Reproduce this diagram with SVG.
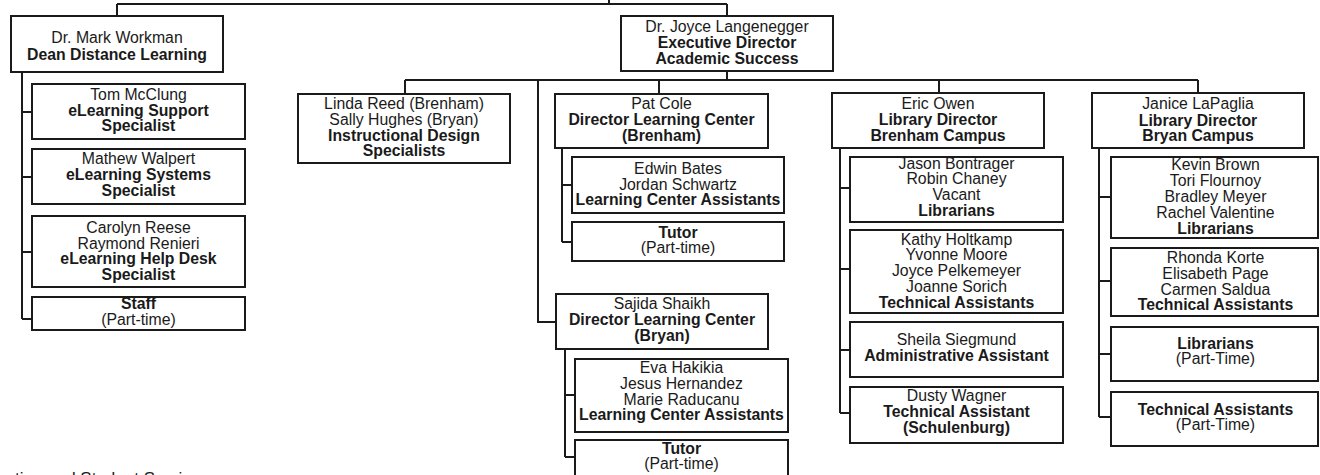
<svg xmlns="http://www.w3.org/2000/svg" width="1320" height="475" viewBox="0 0 1320 475">
<style>
rect.b{fill:#fff;stroke:#1a1a1a;stroke-width:2}
text{font-family:"Liberation Sans",Arial,sans-serif;font-size:15.8px;fill:#1a1a1a;text-anchor:middle}
.t{font-weight:bold}
#connectors path{fill:none;stroke:#1a1a1a;stroke-width:2}
.foot{text-anchor:start;font-size:17px}
</style>
<rect width="1320" height="475" fill="#fff"/>
<g id="connectors">
<path d="M609,0V4M117,4H727M117,4V16M727,4V16"/>
<path d="M22,72V319M22,112H32M22,177H32M22,252H32M22,319H32"/>
<path d="M727,71V80M405,80H1198M405,80V94M659,80V94M939,80V93M1198,80V93M538,80V322H556"/>
<path d="M562,148V242M562,185H572M562,242H572"/>
<path d="M565,349V457M565,395H575M565,457H575"/>
<path d="M840,148V413M840,188H850M840,269H850M840,350H850M840,413H850"/>
<path d="M1099,148V417M1099,197H1111M1099,281H1111M1099,354H1111M1099,417H1111"/>
</g>
<g id="mark"><rect class="b" x="11" y="16" width="212" height="56"/>
<text x="117" y="43">Dr. Mark Workman</text><text class="t" x="117" y="60">Dean Distance Learning</text></g>
<g id="tom"><rect class="b" x="32" y="84" width="213" height="55"/>
<text x="138.5" y="99.5">Tom McClung</text><text class="t" x="138.5" y="115.5">eLearning Support</text><text class="t" x="138.5" y="131">Specialist</text></g>
<g id="mathew"><rect class="b" x="32" y="149" width="213" height="55"/>
<text x="138.5" y="164">Mathew Walpert</text><text class="t" x="138.5" y="180">eLearning Systems</text><text class="t" x="138.5" y="196">Specialist</text></g>
<g id="carolyn"><rect class="b" x="32" y="216" width="213" height="71"/>
<text x="138.5" y="232.5">Carolyn Reese</text><text x="138.5" y="248.5">Raymond Renieri</text><text class="t" x="138.5" y="264">eLearning Help Desk</text><text class="t" x="138.5" y="280">Specialist</text></g>
<g id="staff"><rect class="b" x="32" y="297" width="213" height="33"/>
<text class="t" x="138.5" y="309">Staff</text><text x="138.5" y="325">(Part-time)</text></g>
<g id="joyce"><rect class="b" x="621" y="16" width="212" height="55"/>
<text x="727" y="32">Dr. Joyce Langenegger</text><text class="t" x="727" y="48">Executive Director</text><text class="t" x="727" y="63.5">Academic Success</text></g>
<g id="linda"><rect class="b" x="298" y="94" width="212" height="69"/>
<text x="404" y="109">Linda Reed (Brenham)</text><text x="404" y="125">Sally Hughes (Bryan)</text><text class="t" x="404" y="140.5">Instructional Design</text><text class="t" x="404" y="156">Specialists</text></g>
<g id="pat"><rect class="b" x="555" y="94" width="213" height="54"/>
<text x="661.5" y="109">Pat Cole</text><text class="t" x="661.5" y="125">Director Learning Center</text><text class="t" x="661.5" y="140.5">(Brenham)</text></g>
<g id="edwin"><rect class="b" x="572" y="157" width="212" height="56"/>
<text x="678" y="174">Edwin Bates</text><text x="678" y="189.5">Jordan Schwartz</text><text class="t" x="678" y="205">Learning Center Assistants</text></g>
<g id="tutor1"><rect class="b" x="572" y="222" width="212" height="39"/>
<text class="t" x="678" y="237.5">Tutor</text><text x="678" y="253">(Part-time)</text></g>
<g id="sajida"><rect class="b" x="556" y="294" width="212" height="55"/>
<text x="662" y="308.5">Sajida Shaikh</text><text class="t" x="662" y="325">Director Learning Center</text><text class="t" x="662" y="340.5">(Bryan)</text></g>
<g id="eva"><rect class="b" x="575" y="359" width="213" height="73"/>
<text x="681.5" y="372.5">Eva Hakikia</text><text x="681.5" y="388.5">Jesus Hernandez</text><text x="681.5" y="404.5">Marie Raducanu</text><text class="t" x="681.5" y="420">Learning Center Assistants</text></g>
<g id="tutor2"><rect class="b" x="575" y="440" width="213" height="38"/>
<text class="t" x="681.5" y="453.5">Tutor</text><text x="681.5" y="468.5">(Part-time)</text></g>
<g id="eric"><rect class="b" x="832" y="93" width="212" height="55"/>
<text x="938" y="108.5">Eric Owen</text><text class="t" x="938" y="125">Library Director</text><text class="t" x="938" y="140.5">Brenham Campus</text></g>
<g id="jason"><rect class="b" x="850" y="157" width="213" height="65"/>
<text x="956.5" y="168.5">Jason Bontrager</text><text x="956.5" y="184">Robin Chaney</text><text x="956.5" y="200">Vacant</text><text class="t" x="956.5" y="216">Librarians</text></g>
<g id="kathy"><rect class="b" x="850" y="230" width="213" height="83"/>
<text x="956.5" y="244.5">Kathy Holtkamp</text><text x="956.5" y="260">Yvonne Moore</text><text x="956.5" y="276">Joyce Pelkemeyer</text><text x="956.5" y="292">Joanne Sorich</text><text class="t" x="956.5" y="308">Technical Assistants</text></g>
<g id="sheila"><rect class="b" x="850" y="322" width="213" height="55"/>
<text x="956.5" y="345">Sheila Siegmund</text><text class="t" x="956.5" y="361">Administrative Assistant</text></g>
<g id="dusty"><rect class="b" x="850" y="387" width="213" height="56"/>
<text x="956.5" y="401">Dusty Wagner</text><text class="t" x="956.5" y="417">Technical Assistant</text><text class="t" x="956.5" y="432.5">(Schulenburg)</text></g>
<g id="janice"><rect class="b" x="1092" y="93" width="212" height="55"/>
<text x="1198" y="109">Janice LaPaglia</text><text class="t" x="1198" y="125.5">Library Director</text><text class="t" x="1198" y="141">Bryan Campus</text></g>
<g id="kevin"><rect class="b" x="1111" y="157" width="207" height="81"/>
<text x="1215.5" y="170">Kevin Brown</text><text x="1215.5" y="186">Tori Flournoy</text><text x="1215.5" y="202">Bradley Meyer</text><text x="1215.5" y="218">Rachel Valentine</text><text class="t" x="1215.5" y="233.5">Librarians</text></g>
<g id="rhonda"><rect class="b" x="1111" y="248" width="207" height="68"/>
<text x="1215.5" y="262.5">Rhonda Korte</text><text x="1215.5" y="278.5">Elisabeth Page</text><text x="1215.5" y="294.5">Carmen Saldua</text><text class="t" x="1215.5" y="310">Technical Assistants</text></g>
<g id="libpt"><rect class="b" x="1111" y="327" width="207" height="54"/>
<text class="t" x="1215.5" y="348.5">Librarians</text><text x="1215.5" y="363.5">(Part-Time)</text></g>
<g id="tapt"><rect class="b" x="1111" y="392" width="207" height="54"/>
<text class="t" x="1215.5" y="415">Technical Assistants</text><text x="1215.5" y="430">(Part-Time)</text></g>
<text class="foot" x="0" y="484">ration and Student Services</text>
</svg>
